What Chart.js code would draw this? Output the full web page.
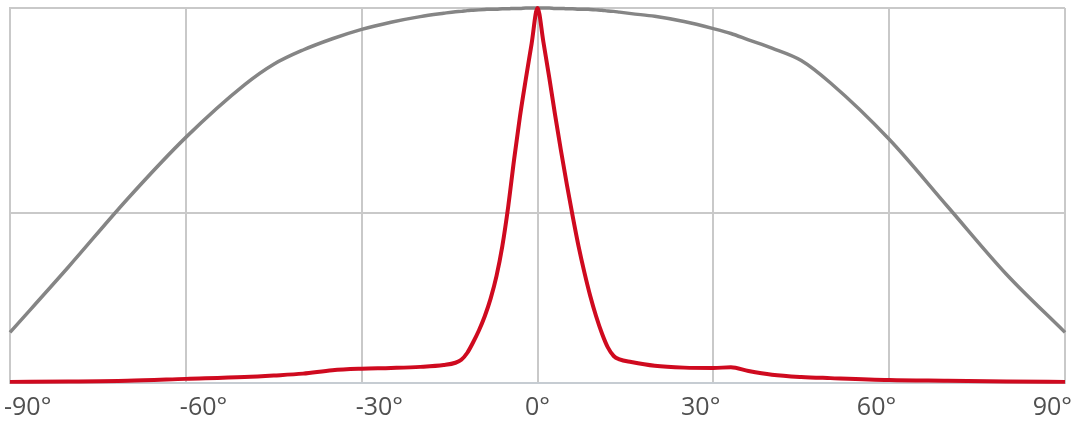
<!DOCTYPE html>
<html>
<head>
<meta charset="utf-8">
<script src="https://cdn.jsdelivr.net/npm/chart.js@4"></script>
<style>
  html, body { margin: 0; padding: 0; background: #fff; }
  #wrap { width: 1072px; height: 423px; position: relative; }
</style>
</head>
<body>
<div id="wrap"><canvas id="chart"></canvas></div>
<script>
/* ---------- data ---------- */
const angles = [-90, -80, -70, -60, -50, -45, -40, -35, -30, -25, -20, -16,
  -14, -13, -12, -11, -10, -9, -8, -7, -6, -5, -4, -3, -2, -1, 0,
  1, 2, 3, 4, 5, 6, 7, 8, 9, 10, 11, 12, 13, 14,
  16, 20, 25, 30, 33, 36, 40, 45, 50, 60, 70, 80, 90];

// wide beam (grey), relative intensity
const wideBeam = [0.135, 0.31, 0.49, 0.655, 0.795, 0.85, 0.888, 0.918, 0.943, 0.962, 0.977, 0.986,
  0.99, 0.991, 0.993, 0.994, 0.995, 0.996, 0.997, 0.997, 0.998, 0.998, 0.999, 0.999, 1.0, 1.0, 1.0,
  1.0, 1.0, 0.999, 0.999, 0.998, 0.998, 0.997, 0.997, 0.996, 0.995, 0.994, 0.992, 0.991, 0.989,
  0.985, 0.978, 0.964, 0.945, 0.932, 0.915, 0.893, 0.86, 0.80, 0.65, 0.47, 0.29, 0.135];

// narrow beam (red), relative intensity
const narrowBeam = [0.003, 0.004, 0.006, 0.011, 0.016, 0.02, 0.025, 0.034, 0.038, 0.04, 0.043, 0.048,
  0.054, 0.062, 0.08, 0.108, 0.14, 0.178, 0.225, 0.285, 0.365, 0.47, 0.595, 0.71, 0.81, 0.905, 1.0,
  0.91, 0.815, 0.715, 0.62, 0.53, 0.445, 0.365, 0.295, 0.232, 0.178, 0.132, 0.095, 0.072, 0.063,
  0.056, 0.046, 0.041, 0.040, 0.042, 0.032, 0.022, 0.016, 0.013, 0.008, 0.006, 0.004, 0.003];

const tickAngles = [-90, -60, -30, 0, 30, 60, 90];
const tickLabels = ["-90°", "-60°", "-30°", "0°", "30°", "60°", "90°"];
const yGridValues = [0, 0.453, 1];

/* ---------- style ---------- */
const C = {
  grey: "#858585",
  red: "#cf0a1f",
  grid: "#c9c9c9",
  axis: "#c6ccd2",
  text: "#505050",
};

// draws the angle labels: left half left-aligned, right half right-aligned
const angleLabels = {
  id: "angleLabels",
  afterDraw(chart) {
    const { ctx, scales: { x }, chartArea } = chart;
    ctx.save();
    ctx.font = "25px 'Open Sans', sans-serif";
    ctx.fillStyle = C.text;
    ctx.textBaseline = "middle";
    tickAngles.forEach((v, i) => {
      let px = x.getPixelForValue(v);
      if (v < 0) { ctx.textAlign = "left"; px -= 6; }
      else if (v > 0) { ctx.textAlign = "right"; px += 7; }
      else ctx.textAlign = "center";
      ctx.fillText(tickLabels[i], px, chartArea.bottom + 25);
    });
    ctx.restore();
  },
};

new Chart(document.getElementById("chart"), {
  type: "line",
  data: {
    datasets: [
      {
        label: "narrow",
        data: angles.map((a, i) => ({ x: a, y: narrowBeam[i] })),
        borderColor: C.red,
        borderWidth: 4,
        pointRadius: 0,
        cubicInterpolationMode: "monotone",
        clip: false,
      },
      {
        label: "wide",
        data: angles.map((a, i) => ({ x: a, y: wideBeam[i] })),
        borderColor: C.grey,
        borderWidth: 3.5,
        pointRadius: 0,
        cubicInterpolationMode: "monotone",
        clip: false,
      },
    ],
  },
  options: {
    responsive: true,
    maintainAspectRatio: false,
    animation: false,
    layout: { padding: { left: 10, right: 7, top: 8, bottom: 40 } },
    plugins: { legend: { display: false }, tooltip: { enabled: false } },
    scales: {
      x: {
        type: "linear",
        min: -90, max: 90,
        ticks: { stepSize: 30, display: false },
        grid: { color: C.grid, lineWidth: 2, drawTicks: false },
        border: { color: C.axis, width: 2 },
      },
      y: {
        min: 0, max: 1,
        afterBuildTicks: axis => { axis.ticks = yGridValues.map(v => ({ value: v })); },
        ticks: { display: false },
        grid: { color: C.grid, lineWidth: 2, drawTicks: false },
        border: { color: C.grid, width: 2 },
      },
    },
  },
  plugins: [angleLabels],
});
</script>
</body>
</html>
